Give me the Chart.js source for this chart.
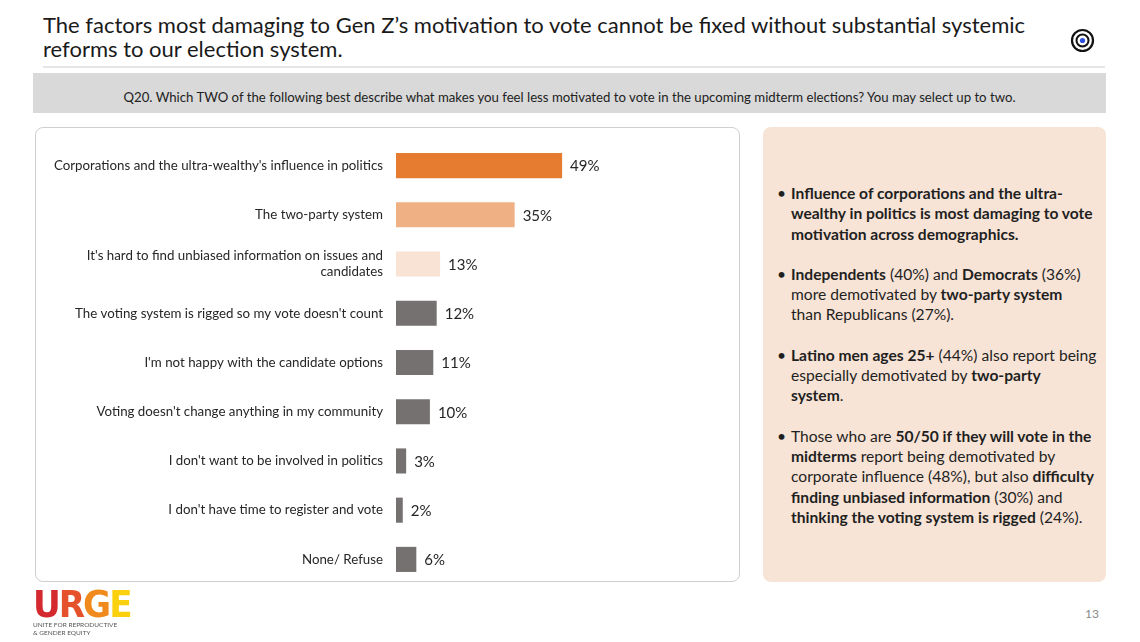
<!DOCTYPE html>
<html>
<head>
<meta charset="utf-8">
<script src="https://cdn.jsdelivr.net/npm/chart.js@4.4.0/dist/chart.umd.min.js"></script>
<style>
  body { margin: 0; width: 1140px; height: 642px; background: #fff; position: relative; overflow: hidden; font-family: "Lato", sans-serif; }
  .title { position: absolute; left: 43px; top: 13px; font-size: 22px; line-height: 23.5px; color: #1a1a1a; }
  .rule { position: absolute; left: 43px; top: 66px; width: 1062px; height: 2px; background: #e6e6e6; }
  .question { position: absolute; left: 33px; top: 73px; width: 1073px; height: 40px; background: #d9d9d9; font-size: 13.2px; color: #222; text-align: center; line-height: 48px; }
  .chartbox { position: absolute; left: 35px; top: 127px; width: 703px; height: 453px; border: 1px solid #cfcfcf; border-radius: 8px; background: #fff; }
  #wrap { position: absolute; left: 35px; top: 120px; width: 705px; height: 485px; }
  .panel { position: absolute; left: 763px; top: 127px; width: 343px; height: 455px; background: #f8e4d6; border-radius: 8px; }
  .panel ul { margin: 0; padding: 0; list-style: none; position: absolute; left: 14px; top: 56px; font-size: 15.6px; line-height: 20.3px; color: #1f1f1f; }
  .panel li { position: relative; padding-left: 14px; margin-bottom: 20px; white-space: nowrap; }
  .panel li:before { content: "\2022"; position: absolute; left: 0; top: 0; }
  .pagenum { position: absolute; left: 1085px; top: 606px; font-size: 12px; color: #8a8a8a; }
  .logo { position: absolute; left: 33px; top: 587px; }
  .logo .big { font-family: "DejaVu Sans Condensed", "DejaVu Sans", sans-serif; font-weight: bold; font-size: 38px; line-height: 34px; letter-spacing: -2px; }
  .logo .small { font-size: 6.5px; line-height: 8px; color: #555; margin-top: 0px; }
</style>
</head>
<body>
<div class="title">The factors most damaging to Gen Z’s motivation to vote cannot be fixed without substantial systemic<br>reforms to our election system.</div>
<svg style="position:absolute;left:1070px;top:28px" width="25" height="25" viewBox="0 0 25 25">
  <circle cx="12.5" cy="12.5" r="10.5" fill="none" stroke="#111" stroke-width="2.2"/>
  <circle cx="12.5" cy="12.5" r="6" fill="none" stroke="#111" stroke-width="2"/>
  <circle cx="12.5" cy="12.5" r="2.6" fill="#2f4fe0"/>
</svg>
<div class="rule"></div>
<div class="question">Q20. Which TWO of the following best describe what makes you feel less motivated to vote in the upcoming midterm elections? You may select up to two.</div>

<div class="chartbox"></div>
<div id="wrap"><canvas id="barChart"></canvas></div>

<div class="panel">
  <ul>
    <li><b>Influence of corporations and the ultra-<br>wealthy in politics is most damaging to vote<br>motivation across demographics.</b></li>
    <li><b>Independents</b> (40%) and <b>Democrats</b> (36%)<br>more demotivated by <b>two-party system</b><br>than Republicans (27%).</li>
    <li><b>Latino men ages 25+</b> (44%) also report being<br>especially demotivated by <b>two-party</b><br><b>system</b>.</li>
    <li>Those who are <b>50/50 if they will vote in the</b><br><b>midterms</b> report being demotivated by<br>corporate influence (48%), but also <b>difficulty</b><br><b>finding unbiased information</b> (30%) and<br><b>thinking the voting system is rigged</b> (24%).</li>
  </ul>
</div>

<div class="logo">
  <div class="big"><span style="color:#d42a2f">U</span><span style="color:#e5512a">R</span><span style="color:#f08a1d">G</span><span style="color:#fbd00f">E</span></div>
  <div class="small">UNITE FOR REPRODUCTIVE<br>&amp; GENDER EQUITY</div>
</div>
<div class="pagenum">13</div>

<script>
var categories = [
    "Corporations and the ultra-wealthy's influence in politics",
    "The two-party system",
    ["It's hard to find unbiased information on issues and", "candidates"],
    "The voting system is rigged so my vote doesn't count",
    "I'm not happy with the candidate options",
    "Voting doesn't change anything in my community",
    "I don't want to be involved in politics",
    "I don't have time to register and vote",
    "None/ Refuse"
];
var values = [49, 35, 13, 12, 11, 10, 3, 2, 6];
var barColors = ["#e57c30", "#efb084", "#f8e3d5", "#767171", "#767171", "#767171", "#767171", "#767171", "#767171"];

// draws the "49%" style labels at the end of each bar
var valueLabels = {
    id: 'valueLabels',
    afterDatasetsDraw: function (chart) {
        var ctx = chart.ctx;
        var meta = chart.getDatasetMeta(0);
        ctx.save();
        ctx.font = '15px Lato, sans-serif';
        ctx.fillStyle = '#262626';
        ctx.textBaseline = 'middle';
        for (var i = 0; i < meta.data.length; i++) {
            var bar = meta.data[i];
            ctx.fillText(values[i] + "%", bar.x + 8, bar.y + 1);
        }
        ctx.restore();
    }
};

var ctxB = document.getElementById("barChart").getContext('2d');
var myBarChart = new Chart(ctxB, {
    type: 'bar',
    data: {
        labels: categories,
        datasets: [{
            data: values,
            backgroundColor: barColors,
            barPercentage: 0.51,
            categoryPercentage: 1
        }]
    },
    options: {
        indexAxis: 'y',
        responsive: true,
        maintainAspectRatio: false,
        animation: false,
        layout: { padding: { top: 13, bottom: 0, right: 5 } },
        plugins: { legend: { display: false }, tooltip: { enabled: false } },
        scales: {
            x: { min: 0, max: 100, display: false },
            y: {
                grid: { display: false, drawTicks: false },
                border: { display: false },
                afterFit: function (scale) { scale.width = 361; },
                ticks: {
                    color: '#262626',
                    padding: 13,
                    font: { family: 'Lato, sans-serif', size: 13.3 }
                }
            }
        }
    },
    plugins: [valueLabels]
});
</script>
</body>
</html>
